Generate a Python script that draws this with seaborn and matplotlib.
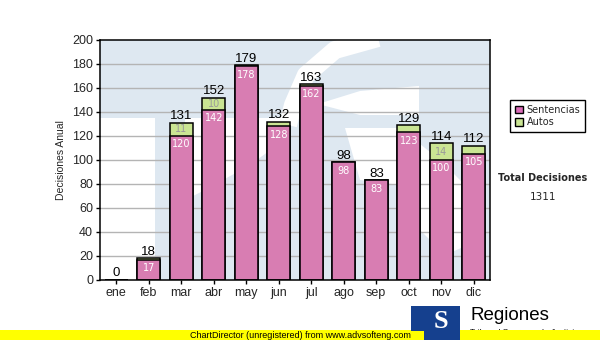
import numpy as np
import pandas as pd
import matplotlib
matplotlib.use("Agg")
import matplotlib.pyplot as plt
import seaborn as sns
from matplotlib.patches import Rectangle, Polygon, Patch

# ---- data ----
meses = ["ene", "feb", "mar", "abr", "may", "jun", "jul", "ago", "sep", "oct", "nov", "dic"]
sentencias = [0, 17, 120, 142, 178, 128, 162, 98, 83, 123, 100, 105]
autos = [0, 1, 11, 10, 1, 4, 1, 0, 0, 6, 14, 7]
y_ticks = [0, 20, 40, 60, 80, 100, 120, 140, 160, 180, 200]
total_label = "Total Decisiones"

totales = [s + a for s, a in zip(sentencias, autos)]
total_decisiones = sum(totales)

df = pd.DataFrame({"mes": meses, "Sentencias": sentencias, "Autos": autos, "Total": totales})

sns.set_theme(style="white")
plt.rcParams["font.family"] = ["Liberation Sans", "DejaVu Sans"]

PINK = "#db6cb8"
GREEN = "#cae593"
WM_BLUE = "#dee8f1"

W, H = 600, 340
fig = plt.figure(figsize=(6, 3.4), dpi=100)
fig.patch.set_facecolor("white")

# plot area in pixels: x 100..490, y 40..280
ax = fig.add_axes([100 / W, 1 - 280 / H, 390 / W, 240 / H])
ax.set_facecolor(WM_BLUE)


def axp(px, py):
    return ((px - 100) / 390.0, (280 - py) / 240.0)


def wm_poly(points, color="white"):
    p = Polygon([axp(x, y) for x, y in points], closed=True, transform=ax.transAxes,
                facecolor=color, edgecolor="none", zorder=0.1)
    ax.add_patch(p)


# watermark approximation (white areas over light blue)
wm_poly([(100, 118), (155, 118), (155, 281), (100, 281)])
wm_poly([(185, 118), (292, 118), (284, 140), (250, 165), (205, 190), (185, 200)])
arc = [(378, 38), (335, 50), (306, 75), (293, 105), (288, 125)]
ax.plot([axp(x, y)[0] for x, y in arc], [axp(x, y)[1] for x, y in arc],
        color="white", lw=13, transform=ax.transAxes, zorder=0.1, solid_capstyle="butt")
wm_poly([(318, 104), (360, 91), (419, 86), (419, 115), (360, 115)])
wm_poly([(345, 128), (400, 128), (440, 160), (470, 190), (468, 245), (445, 255), (420, 230),
         (400, 185), (360, 180)])

# grid
for v in y_ticks[1:-1]:
    ax.axhline(v, color="#b4b4b4", lw=1, zorder=0.5)

bar_w = 0.72
n0 = len(ax.patches)
sns.barplot(data=df, x="mes", y="Total", color=GREEN, saturation=1, width=bar_w,
            edgecolor="black", linewidth=1.1, ax=ax, zorder=3)
n1 = len(ax.patches)
sns.barplot(data=df, x="mes", y="Sentencias", color=PINK, saturation=1, width=bar_w,
            edgecolor="black", linewidth=1.1, ax=ax, zorder=3)
for i, p in enumerate(ax.patches):
    if i < n0:
        continue
    if i >= n1:
        p.set_facecolor(matplotlib.colors.to_rgba(PINK, 0.86))
    else:
        p.set_facecolor(matplotlib.colors.to_rgba(GREEN, 1.0))
    p.set_edgecolor("black")

ax.set_xlim(-0.5, 11.5)
ax.set_ylim(0, 200)
ax.set_yticks(y_ticks)
ax.set_xlabel("")
ax.set_ylabel("Decisiones Anual", fontsize=7.5, labelpad=4)
ax.tick_params(axis="both", which="both", length=3, width=1, color="black",
               labelsize=9, pad=2, direction="out", bottom=True, left=True)
for s in ax.spines.values():
    s.set_color("black")
    s.set_linewidth(1.1)
    s.set_zorder(5)

# value labels
for i in range(len(meses)):
    ax.annotate(str(totales[i]), (i, totales[i]), xytext=(0, 0.5), textcoords="offset points",
                ha="center", va="bottom", fontsize=9.5, color="black", zorder=6)
    if sentencias[i] > 0:
        ax.annotate(str(sentencias[i]), (i, sentencias[i]), xytext=(0, -2.5),
                    textcoords="offset points", ha="center", va="top", fontsize=7,
                    color="white", family="DejaVu Sans", zorder=6)
    if autos[i] >= 10:
        ax.annotate(str(autos[i]), (i, sentencias[i] + autos[i] / 2), ha="center", va="center",
                    fontsize=7, color="#9a9a9a", family="DejaVu Sans", zorder=6)

# legend
handles = [Patch(facecolor=PINK, edgecolor="black", lw=1),
           Patch(facecolor=GREEN, edgecolor="black", lw=1)]
leg = fig.legend(handles, ["Sentencias", "Autos"], loc="upper left",
                 bbox_to_anchor=(510 / W, 1 - 100 / H), frameon=True, fancybox=False,
                 framealpha=1, edgecolor="black", prop={"family": "DejaVu Sans", "size": 7},
                 handlelength=0.8, handleheight=0.8, handletextpad=0.4, borderpad=0.5,
                 labelspacing=0.25, borderaxespad=0)
leg.get_frame().set_linewidth(1)

fig.text(543 / W, 1 - 178 / H, total_label, ha="center", va="center", fontsize=7,
         fontweight="bold", family="DejaVu Sans")
fig.text(543 / W, 1 - 197 / H, str(total_decisiones), ha="center", va="center", fontsize=7.5,
         family="DejaVu Sans")

# footer: logo + yellow band
fig.text(470 / W, 1 - 316 / H, "Regiones", ha="left", va="center", fontsize=13.5,
         color="black", family="Liberation Sans")
fig.text(470 / W, 1 - 333 / H, "Tribunal Supremo de Justicia", ha="left", va="center",
         fontsize=6, color="black", family="Liberation Sans", zorder=1)
fig.patches.append(Rectangle((0, 0), 1, 10 / H, transform=fig.transFigure,
                             facecolor="#ffff00", edgecolor="none", zorder=2))
fig.patches.append(Rectangle((411 / W, 1 - 331 / H), 49 / W, 25 / H, transform=fig.transFigure,
                             facecolor="#15408e", edgecolor="none", zorder=3))
fig.patches.append(Rectangle((424 / W, 0), 36 / W, 12 / H, transform=fig.transFigure,
                             facecolor="#15408e", edgecolor="none", zorder=3))
fig.text(441 / W, 1 - 322 / H, "S", ha="center", va="center", fontsize=19, fontweight="bold",
         color="white", family="Liberation Serif", zorder=4)
fig.text(300 / W, 1 - 335 / H, "ChartDirector (unregistered) from www.advsofteng.com",
         ha="center", va="center", fontsize=6.5, color="black", family="Liberation Sans", zorder=3)

fig.savefig("out.png", dpi=100)
